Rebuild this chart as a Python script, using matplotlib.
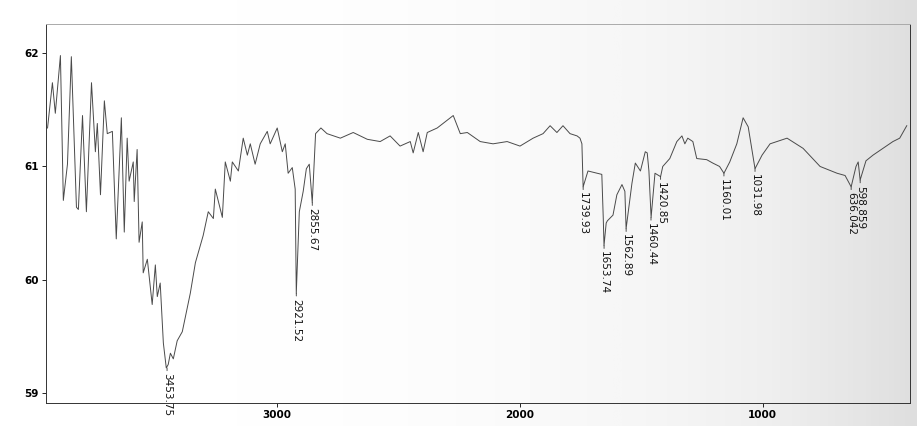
import matplotlib.pyplot as plt
import numpy as np

# IR spectrum (wavenumber cm-1, transmittance)
wavenumber = [3946, 3926, 3914, 3893, 3881, 3864, 3848, 3827, 3819, 3802,
              3786, 3765, 3749, 3741, 3728, 3712, 3700, 3679, 3663, 3642,
              3630, 3618, 3610, 3593, 3589, 3577, 3569, 3556, 3552, 3535,
              3515, 3502, 3494, 3482, 3469, 3457, 3449, 3440, 3428, 3412,
              3391, 3358, 3337, 3305, 3284, 3263, 3255, 3226, 3214, 3193,
              3185, 3160, 3140, 3123, 3111, 3091, 3070, 3041, 3029, 3000,
              2979, 2967, 2955, 2938, 2926, 2921.5, 2909, 2893, 2880, 2868,
              2855.7, 2842, 2820, 2795, 2740, 2687, 2629, 2576, 2535, 2494,
              2452, 2440, 2419, 2399, 2382, 2341, 2275, 2246, 2217, 2164,
              2111, 2053, 2000, 1946, 1905, 1876, 1848, 1823, 1794, 1765,
              1753, 1745, 1740, 1720, 1683, 1663, 1657, 1654, 1645, 1640,
              1617, 1601, 1580, 1568, 1563, 1539, 1525, 1504, 1484, 1476,
              1469, 1460, 1444, 1421, 1412, 1383, 1354, 1333, 1321, 1309,
              1288, 1272, 1231, 1206, 1178, 1160, 1136, 1107, 1081, 1060,
              1032, 1003, 970, 900, 834, 764, 694, 661, 636, 616,
              607, 599, 575, 546, 505, 464, 436, 407]
transmittance = [61.34, 61.74, 61.47, 61.98, 60.70, 61.02, 61.97, 60.64, 60.62, 61.45,
                 60.60, 61.74, 61.13, 61.38, 60.75, 61.58, 61.29, 61.31, 60.36, 61.43,
                 60.42, 61.25, 60.87, 61.04, 60.69, 61.15, 60.33, 60.51, 60.06, 60.18,
                 59.78, 60.13, 59.85, 59.97, 59.44, 59.22, 59.25, 59.35, 59.30, 59.46,
                 59.54, 59.88, 60.15, 60.39, 60.60, 60.54, 60.80, 60.55, 61.04, 60.87,
                 61.04, 60.96, 61.25, 61.10, 61.20, 61.02, 61.20, 61.31, 61.20, 61.34,
                 61.13, 61.20, 60.94, 60.99, 60.80, 59.88, 60.60, 60.78, 60.98, 61.02,
                 60.68, 61.29, 61.34, 61.29, 61.25, 61.30, 61.24, 61.22, 61.27, 61.18,
                 61.22, 61.12, 61.30, 61.13, 61.30, 61.34, 61.45, 61.29, 61.30, 61.22,
                 61.20, 61.22, 61.18, 61.25, 61.29, 61.36, 61.30, 61.36, 61.29, 61.27,
                 61.25, 61.20, 60.82, 60.96, 60.94, 60.93, 60.54, 60.30, 60.50, 60.52,
                 60.57, 60.75, 60.84, 60.78, 60.45, 60.85, 61.03, 60.96, 61.13, 61.12,
                 60.96, 60.55, 60.94, 60.91, 61.00, 61.07, 61.22, 61.27, 61.20, 61.25,
                 61.22, 61.07, 61.06, 61.03, 61.00, 60.94, 61.04, 61.20, 61.43, 61.35,
                 60.98, 61.10, 61.20, 61.25, 61.16, 61.00, 60.94, 60.92, 60.82, 61.00,
                 61.04, 60.88, 61.05, 61.10, 61.16, 61.22, 61.25, 61.36]

peak_labels = ['3453.75', '2921.52', '2855.67', '1739.93', '1653.74', '1562.89',
               '1460.44', '1420.85', '1160.01', '1031.98', '636.042', '598.859']
peak_x = [3453.75, 2921.52, 2855.67, 1739.93, 1653.74, 1562.89,
          1460.44, 1420.85, 1160.01, 1031.98, 636.042, 598.859]
peak_y = [59.22, 59.88, 60.68, 60.82, 60.30, 60.45,
          60.55, 60.91, 60.94, 60.98, 60.82, 60.88]

x_ticks = [3000, 2000, 1000]
y_ticks = [59, 60, 61, 62]

fig = plt.figure(figsize=(9.17, 4.26), dpi=100)

# faint greyish scan tone, darker towards the right edge
bg_ax = fig.add_axes([0, 0, 1, 1], zorder=-1)
grad = np.linspace(0, 1, 400) ** 3
bg_ax.imshow(np.tile(grad, (2, 1)), cmap='Greys', vmin=0, vmax=4.5,
             aspect='auto', extent=(0, 1, 0, 1))
bg_ax.axis('off')

ax = fig.add_axes([0.050, 0.054, 0.942, 0.890], zorder=1)
ax.set_facecolor('none')

ax.plot(wavenumber, transmittance, color='#4a4a4a', lw=0.7)

for lab, px, py in zip(peak_labels, peak_x, peak_y):
    ax.annotate(lab, xy=(px, py), xytext=(0, -4), textcoords='offset points',
                rotation=-90, ha='center', va='top', fontsize=7.5,
                color='#111111',
                arrowprops=dict(arrowstyle='-', color='#333333', lw=0.6))

ax.set_xlim(3953, 395)
ax.set_ylim(58.91, 62.26)
ax.set_xticks(x_ticks)
ax.set_yticks(y_ticks)
ax.tick_params(direction='out', length=3, width=0.6, labelsize=7.5, pad=2)
for t in ax.get_xticklabels() + ax.get_yticklabels():
    t.set_fontweight('bold')
for s in ax.spines.values():
    s.set_linewidth(0.7)
    s.set_color('#333333')
ax.spines['top'].set_color('#aaaaaa')

fig.savefig('out.png', dpi=100)
